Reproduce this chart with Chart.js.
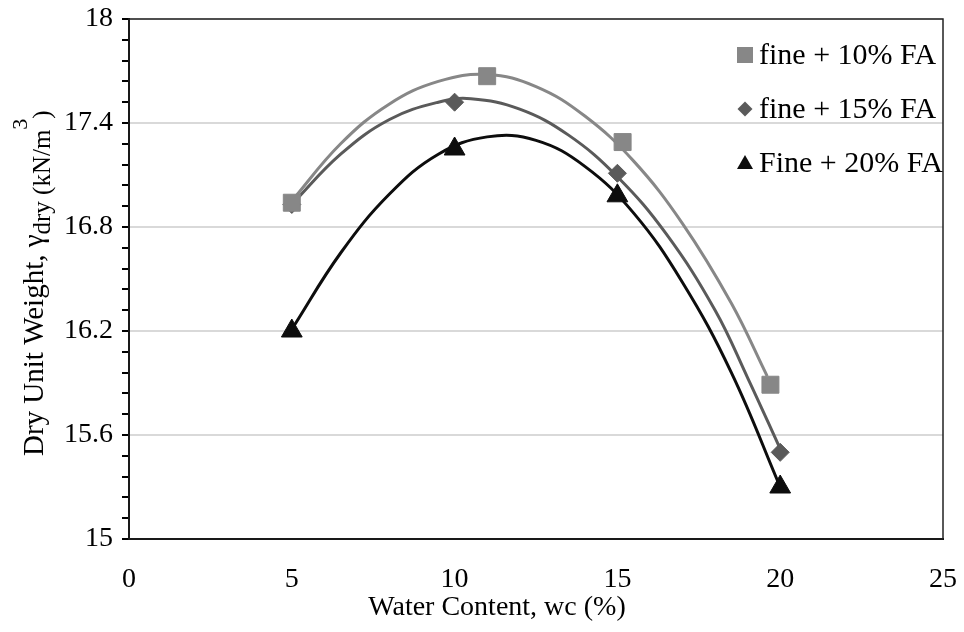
<!DOCTYPE html>
<html lang="en">
<head>
  <meta charset="UTF-8" />
  <title>Dry Unit Weight vs Water Content</title>
  <script src="https://cdn.jsdelivr.net/npm/chart.js"></script>
  <style>
    body { margin: 0; background: #fff; }
    #wrap { width: 964px; height: 632px; }
  </style>
</head>
<body>
  <div id="wrap"><canvas id="compaction" width="964" height="632"></canvas></div>

  <script>
    // measured points
    const seriesLabels = ['fine + 10% FA', 'fine + 15% FA', 'Fine + 20% FA'];
    const wc10 = [5, 11, 15.16, 19.7];
    const gd10 = [16.94, 17.67, 17.29, 15.89];
    const wc15 = [5, 10, 15, 20];
    const gd15 = [16.93, 17.52, 17.11, 15.50];
    const wc20 = [5, 10, 15, 20];
    const gd20 = [16.20, 17.25, 16.98, 15.30];

    // trend curves
    const trendWc10 = [5, 6.5, 8, 9.5, 11, 12.5, 14, 15.5, 17, 18.5, 19.6];
    const trendGd10 = [16.95, 17.28, 17.51, 17.64, 17.68, 17.61, 17.44, 17.18, 16.82, 16.36, 15.94];
    const trendWc15 = [5, 6.5, 8, 9.5, 10.5, 12, 13.5, 15, 16.5, 18, 19, 20];
    const trendGd15 = [16.93, 17.22, 17.42, 17.52, 17.54, 17.48, 17.33, 17.09, 16.76, 16.32, 15.93, 15.52];
    const trendWc20 = [5, 6.5, 8, 9.5, 11, 12.5, 14, 15.5, 17, 18.5, 20];
    const trendGd20 = [16.21, 16.65, 16.99, 17.22, 17.32, 17.30, 17.15, 16.88, 16.48, 15.96, 15.30];

    const yTickLabels = ['15', '15.6', '16.2', '16.8', '17.4', '18'];
    const xTickLabels = ['0', '5', '10', '15', '20', '25'];
    const xTitle = 'Water Content, wc (%)';

    const colors = ['#878787', '#5a5a5a', '#0d0d0d'];
    const shapes = ['rect', 'rectRot', 'triangle'];
    const radii = [12, 9, 12];

    Chart.defaults.font.family = '"Liberation Serif", "Times New Roman", serif';
    Chart.defaults.color = '#000';

    function pts(xs, ys) {
      return xs.map((x, i) => ({ x: x, y: ys[i] }));
    }

    const markerSets = [[wc10, gd10], [wc15, gd15], [wc20, gd20]];
    const trendSets = [[trendWc10, trendGd10], [trendWc15, trendGd15], [trendWc20, trendGd20]];

    const datasets = [];
    trendSets.forEach((s, i) => {
      datasets.push({
        label: seriesLabels[i] + ' trend',
        data: pts(s[0], s[1]),
        showLine: true,
        borderColor: colors[i],
        borderWidth: 3,
        pointRadius: 0,
        tension: 0.4,
        order: 2
      });
    });
    markerSets.forEach((s, i) => {
      datasets.push({
        label: seriesLabels[i],
        data: pts(s[0], s[1]),
        showLine: false,
        pointStyle: shapes[i],
        pointRadius: radii[i],
        pointBackgroundColor: colors[i],
        pointBorderColor: colors[i],
        pointBorderWidth: 1,
        order: 1
      });
    });

    // no extra room for edge labels, the plot box is fixed
    function noPad(s) {
      s.paddingTop = 0; s.paddingBottom = 0;
      s.paddingLeft = 0; s.paddingRight = 0;
    }

    // frame round the plot area
    const frame = {
      id: 'frame',
      beforeDatasetsDraw(chart) {
        const { ctx, chartArea: a } = chart;
        ctx.save();
        ctx.strokeStyle = '#222';
        ctx.lineWidth = 1.5;
        ctx.strokeRect(a.left, a.top, a.right - a.left, a.bottom - a.top);
        ctx.restore();
      }
    };

    // axis titles; the y one needs sub/superscript
    const titles = {
      id: 'titles',
      afterDraw(chart) {
        const ctx = chart.ctx;
        ctx.save();
        ctx.fillStyle = '#000';
        ctx.font = '28px "Liberation Serif", serif';
        ctx.textAlign = 'center';
        ctx.textBaseline = 'middle';
        ctx.fillText(xTitle, 497, 608);

        const parts = [
          { t: 'Dry Unit Weight, \u03b3', size: 29, shift: 0 },
          { t: 'dry (kN/m', size: 25, shift: 7 },
          { t: '3', size: 22, shift: -16 },
          { t: ')', size: 25, shift: 7 }
        ];
        ctx.translate(43, 456);
        ctx.rotate(-Math.PI / 2);
        ctx.textAlign = 'left';
        ctx.textBaseline = 'alphabetic';
        let x = 0;
        parts.forEach(p => {
          ctx.font = p.size + 'px "Liberation Serif", serif';
          ctx.fillText(p.t, x, p.shift);
          x += ctx.measureText(p.t).width;
        });
        ctx.restore();
      }
    };

    // legend inside the plot, top right
    const legendBox = {
      id: 'legendBox',
      afterDraw(chart) {
        const ctx = chart.ctx;
        const rows = [55, 109, 163];
        ctx.save();
        rows.forEach((cy, i) => {
          const cx = 745;
          ctx.fillStyle = colors[i];
          ctx.beginPath();
          if (i === 0) {
            ctx.rect(cx - 8, cy - 8, 16, 16);
          } else if (i === 1) {
            ctx.moveTo(cx, cy - 7.5); ctx.lineTo(cx + 7.5, cy);
            ctx.lineTo(cx, cy + 7.5); ctx.lineTo(cx - 7.5, cy);
          } else {
            ctx.moveTo(cx, cy - 8); ctx.lineTo(cx + 8, cy + 6);
            ctx.lineTo(cx - 8, cy + 6);
          }
          ctx.closePath();
          ctx.fill();
          ctx.fillStyle = '#000';
          ctx.font = '30px "Liberation Serif", serif';
          ctx.textBaseline = 'alphabetic';
          ctx.fillText(seriesLabels[i], 759, cy + 9);
        });
        ctx.restore();
      }
    };

    new Chart(document.getElementById('compaction'), {
      type: 'scatter',
      data: { datasets: datasets },
      options: {
        responsive: false,
        animation: false,
        layout: { padding: { left: 0, top: 19, right: 21, bottom: 0 } },
        plugins: { legend: { display: false }, tooltip: { enabled: false } },
        scales: {
          x: {
            min: 0, max: 25,
            afterFit(s) { s.height = 93; noPad(s); },
            ticks: {
              stepSize: 5,
              padding: 24,
              font: { size: 28 },
              callback: (v, i) => xTickLabels[i]
            },
            grid: { display: true, drawOnChartArea: false, drawTicks: false },
            border: { color: '#000', width: 2 }
          },
          y: {
            min: 15, max: 18,
            afterFit(s) { s.width = 129; noPad(s); },
            ticks: {
              stepSize: 0.12,
              autoSkip: false,
              padding: 9,
              font: { size: 28 },
              callback: (v) => {
                const k = Math.round((v - 15) / 0.12);
                return k % 5 === 0 ? yTickLabels[k / 5] : '';
              }
            },
            grid: {
              color: (c) => {
                const k = Math.round((c.tick.value - 15) / 0.12);
                return k % 5 === 0 ? '#d9d9d9' : 'rgba(0,0,0,0)';
              },
              lineWidth: 2,
              tickColor: '#000',
              tickWidth: 2,
              tickLength: 7
            },
            border: { color: '#000', width: 2 }
          }
        }
      },
      plugins: [frame, titles, legendBox]
    });
  </script>
</body>
</html>
